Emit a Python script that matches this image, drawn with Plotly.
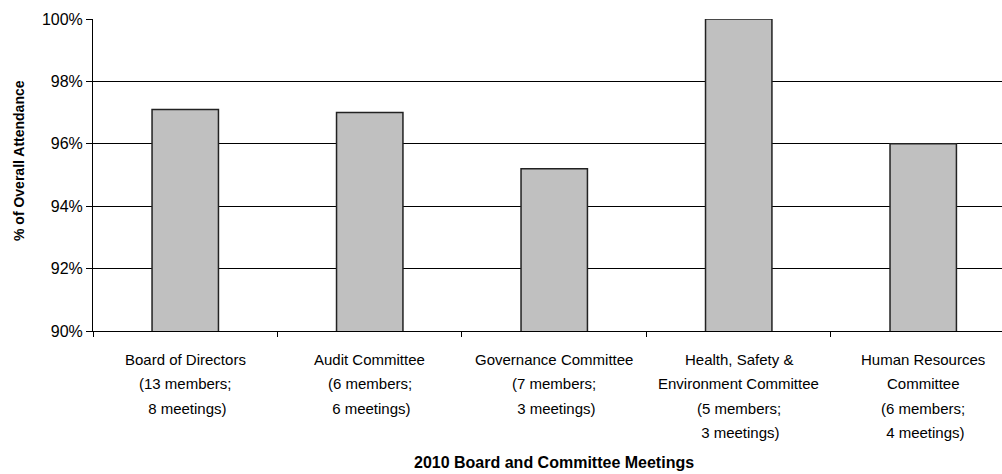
import plotly.graph_objects as go

# Attendance data for 2010 board and committee meetings
categories = [
    "Board of Directors",
    "Audit Committee",
    "Governance Committee",
    "Health, Safety & Environment Committee",
    "Human Resources Committee",
]
label_lines = [
    ["Board of Directors", "(13 members;", " 8 meetings)"],
    ["Audit Committee", "(6 members;", " 6 meetings)"],
    ["Governance Committee", "(7 members;", " 3 meetings)"],
    ["Health, Safety &", "Environment Committee", "(5 members;", " 3 meetings)"],
    ["Human Resources", "Committee", "(6 members;", " 4 meetings)"],
]
attendance = [97.1, 97.0, 95.2, 100.0, 96.0]
y_ticks = [90, 92, 94, 96, 98, 100]
y_tick_text = [f"{v}%" for v in y_ticks]

FONT = "Arial, Liberation Sans, sans-serif"

fig = go.Figure(
    go.Bar(
        x=categories,
        y=attendance,
        marker=dict(color="#c0c0c0", line=dict(color="#222222", width=1.5)),
        hoverinfo="skip",
    )
)

annotations = []
for cat, lines in zip(categories, label_lines):
    for i, line in enumerate(lines):
        annotations.append(
            dict(
                x=cat, xref="x", y=0, yref="paper",
                yanchor="middle", xanchor="center",
                yshift=-(28 + 24.5 * i),
                text=line, showarrow=False,
                font=dict(family=FONT, size=15, color="#000000"),
            )
        )

# Axis titles
annotations.append(
    dict(
        x=categories[2], xref="x", y=0, yref="paper",
        yanchor="middle", xanchor="center", yshift=-131,
        text="<b>2010 Board and Committee Meetings</b>", showarrow=False,
        font=dict(family=FONT, size=16, color="#000000"),
        borderpad=0,
    )
)
annotations.append(
    dict(
        x=0, xref="paper", y=0.5, yref="paper",
        xanchor="center", yanchor="middle", xshift=-74, yshift=14,
        textangle=-90,
        text="<b>% of Overall Attendance</b>", showarrow=False,
        font=dict(family=FONT, size=14, color="#000000"),
    )
)

fig.update_layout(
    width=1002,
    height=474,
    margin=dict(l=93, r=0, t=19, b=143),
    paper_bgcolor="white",
    plot_bgcolor="white",
    bargap=0.64,
    showlegend=False,
    annotations=annotations,
    font=dict(family=FONT, size=15, color="#000000"),
)

fig.update_xaxes(
    type="category",
    range=[-0.5, 4.427],
    showticklabels=False,
    ticks="outside",
    tickson="boundaries",
    ticklen=5,
    tickcolor="#000000",
    showline=True,
    linecolor="#000000",
    linewidth=1,
    showgrid=False,
)

fig.update_yaxes(
    range=[90, 100],
    tickvals=y_ticks,
    ticktext=y_tick_text,
    ticks="outside",
    ticklen=6,
    tickcolor="#000000",
    tickfont=dict(family=FONT, size=16, color="#000000"),
    showline=True,
    linecolor="#000000",
    linewidth=1,
    showgrid=True,
    gridcolor="#000000",
    gridwidth=1,
    zeroline=False,
)

fig.write_html("out.html")
